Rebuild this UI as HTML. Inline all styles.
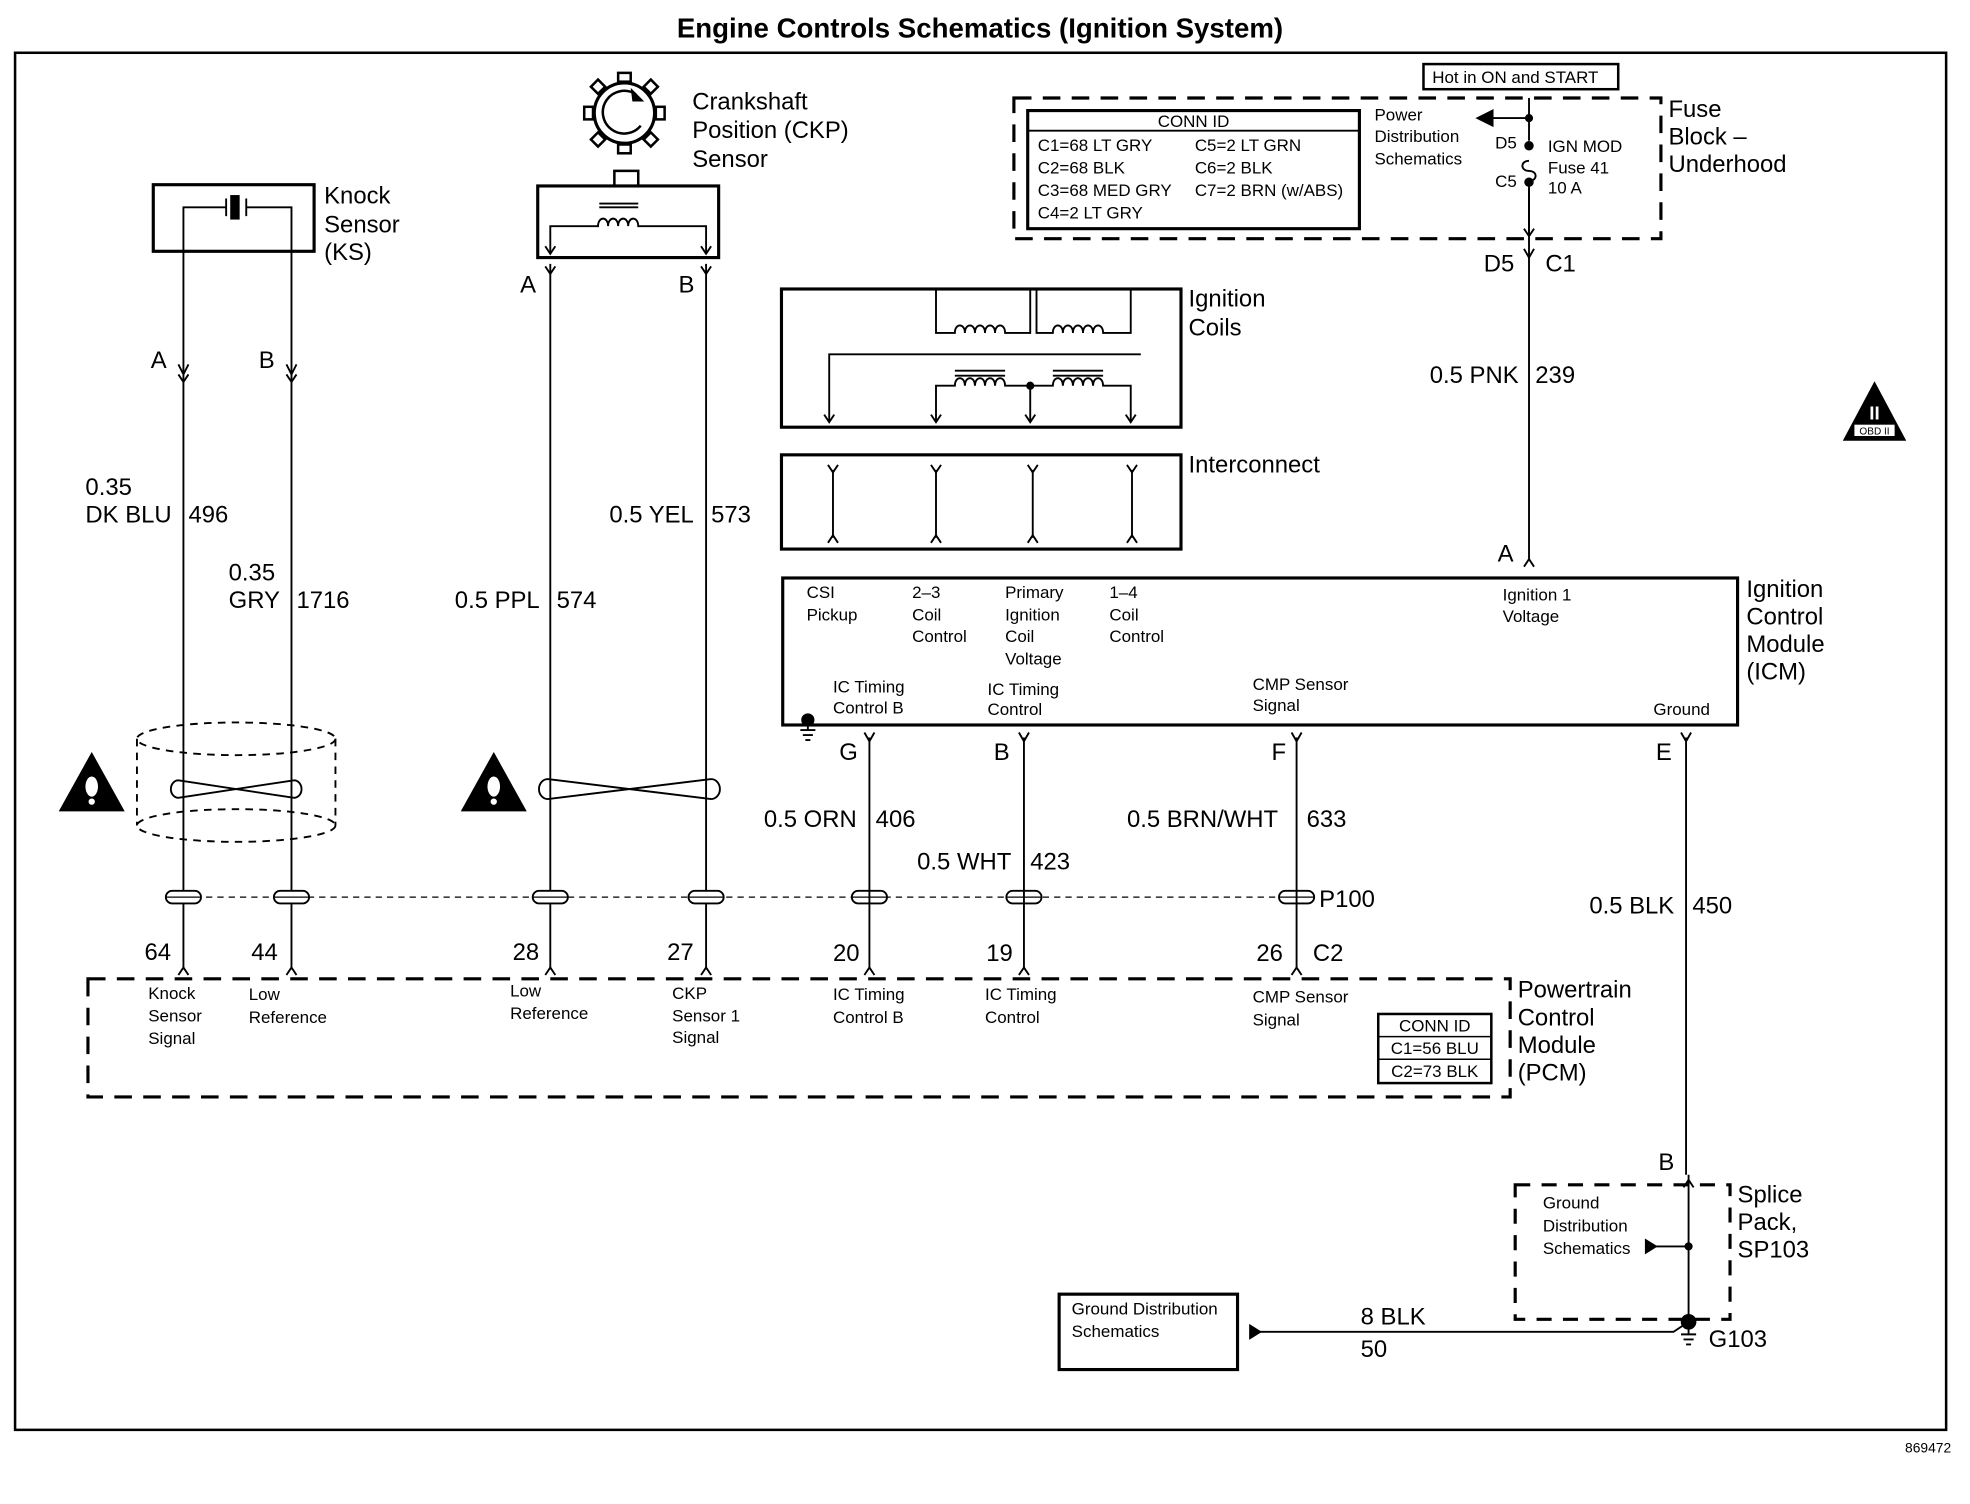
<!DOCTYPE html>
<html><head><meta charset="utf-8"><style>
html,body{margin:0;padding:0;background:#fff}
svg{display:block}
text{font-family:"Liberation Sans",sans-serif;fill:#000}
.L{font-size:19px}
.S{font-size:13.5px}
</style></head><body>
<svg width="1970" height="1504" viewBox="0 0 1568 1197" preserveAspectRatio="none" xmlns="http://www.w3.org/2000/svg">
<g fill="none" stroke="#000" stroke-width="1.5">
<rect x="12" y="42" width="1537" height="1096" stroke-width="2"/>
<rect x="122" y="147" width="128" height="53" stroke-width="2.5"/>
<path d="M146 200V165H180M180 158V172M196 158V172M196 165H232V200"/>
<rect x="184" y="156" width="6" height="18" fill="#000"/>
<path d="M146 200V770M232 200V770"/>
<path d="M142 290L146 298L150 290M142 298L146 304L150 298M228 290L232 298L236 290M228 298L232 304L236 298"/>
<g stroke-dasharray="6,5">
<ellipse cx="188" cy="588" rx="79" ry="13"/>
<ellipse cx="188" cy="657" rx="79" ry="13"/>
<path d="M109 588V657M267 588V657"/>
</g>
<path d="M142 621L234 635M142 635L234 621M142 621A6 7 0 0 0 142 635M234 621A6 7 0 0 1 234 635"/>
<circle cx="497" cy="90" r="24" stroke-width="2.5"/>
<path d="M506 75A17 17 0 1 0 510 100" stroke-width="2"/>
<path d="M503 72L511 80L504 80Z" fill="#000"/>
<g stroke-width="2">
<rect x="492" y="58" width="10" height="7"/><rect x="492" y="115" width="10" height="7"/>
<rect x="465" y="85" width="7" height="10"/><rect x="522" y="85" width="7" height="10"/>
<rect x="472" y="65" width="8" height="8" transform="rotate(45 476 69)"/><rect x="514" y="65" width="8" height="8" transform="rotate(45 518 69)"/>
<rect x="472" y="107" width="8" height="8" transform="rotate(45 476 111)"/><rect x="514" y="107" width="8" height="8" transform="rotate(45 518 111)"/>
</g>
<rect x="489" y="136" width="19" height="12" stroke-width="2"/>
<rect x="428" y="148" width="144" height="57" stroke-width="2.5"/>
<path d="M477 162H508M477 165H508" />
<path d="M438 202V180H476C476 172 484 172 484 180C484 172 492 172 492 180C492 172 500 172 500 180C500 172 508 172 508 180H562V202"/>
<path d="M434 196L438 202L442 196M558 196L562 202L566 196"/>
<path d="M438 210V770M562 210V770M434 212L438 218L442 212M558 212L562 218L566 212"/>
<path d="M436 620L566 636M436 636L566 620M436 620A7 8 0 0 0 436 636M566 620A7 8 0 0 1 566 636"/>
<path d="M146 714H1032" stroke-dasharray="5,4" stroke-width="1"/>
<g fill="#fff" stroke-width="1.5">
<rect x="132" y="709" width="28" height="10" rx="5"/><rect x="218" y="709" width="28" height="10" rx="5"/>
<rect x="424" y="709" width="28" height="10" rx="5"/><rect x="548" y="709" width="28" height="10" rx="5"/>
<rect x="678" y="709" width="28" height="10" rx="5"/><rect x="801" y="709" width="28" height="10" rx="5"/>
<rect x="1018" y="709" width="28" height="10" rx="5"/>
</g>
<path d="M132 714H160M218 714H246M424 714H452M548 714H576M678 714H706M801 714H829M1018 714H1046" stroke-width="1"/>
<path d="M142 776L146 770L150 776M228 776L232 770L236 776M434 776L438 770L442 776M558 776L562 770L566 776M688 776L692 770L696 776M811 776L815 770L819 776M1028 776L1032 770L1036 776"/>
<path d="M692 587V770M815 587V770M1032 587V770M1342 587V935"/>
<path d="M688 583L692 590L696 583M811 583L815 590L819 583M1028 583L1032 590L1036 583M1338 583L1342 590L1346 583"/>
<rect x="70" y="779" width="1132" height="94" stroke-dasharray="14,9" stroke-width="2.5"/>
<rect x="1097" y="807" width="90" height="55" stroke-width="2"/>
<path d="M1097 825H1187M1097 843H1187" stroke-width="1.2"/>
<rect x="622" y="230" width="318" height="110" stroke-width="2.5"/>
<path d="M745 230V265H760C760 257 768 257 768 265C768 257 776 257 776 265C776 257 784 257 784 265C784 257 792 257 792 265C792 257 800 257 800 265H820V230M825 230V265H838C838 257 846 257 846 265C846 257 854 257 854 265C854 257 862 257 862 265C862 257 870 257 870 265C870 257 878 257 878 265H900V230"/>
<path d="M660 336V282H908"/>
<path d="M760 295H800M760 299H800M838 295H878M838 299H878"/>
<path d="M745 336V307H760C760 299 768 299 768 307C768 299 776 299 776 307C776 299 784 299 784 307C784 299 792 299 792 307C792 299 800 299 800 307H838C838 299 846 299 846 307C846 299 854 299 854 307C854 299 862 299 862 307C862 299 870 299 870 307C870 299 878 299 878 307H900V336M820 307V336"/>
<circle cx="820" cy="307" r="2.5" fill="#000"/>
<path d="M656 330L660 336L664 330M741 330L745 336L749 330M816 330L820 336L824 330M896 330L900 336L904 330"/>
<rect x="622" y="362" width="318" height="75" stroke-width="2.5"/>
<path d="M663 374V428M745 374V428M822 374V428M901 374V428"/>
<path d="M659 370L663 376L667 370M741 370L745 376L749 370M818 370L822 376L826 370M897 370L901 376L905 370M659 432L663 426L667 432M741 432L745 426L749 432M818 432L822 426L826 432M897 432L901 426L905 432"/>
<rect x="623" y="460" width="760" height="117" stroke-width="2.5"/>
<path d="M1217 150V445M1213 451L1217 445L1221 451"/>
<path d="M1213 198L1217 205L1221 198"/>
<rect x="807" y="78" width="515" height="112" stroke-dasharray="14,9" stroke-width="2.5"/>
<rect x="1133" y="51" width="155" height="20" stroke-width="2"/>
<rect x="818" y="88" width="264" height="94" stroke-width="2.5"/>
<path d="M818 104H1082" stroke-width="1.5"/>
<path d="M1217 78V112M1217 94H1185M1217 128C1210 128 1210 136 1217 136C1224 136 1224 144 1217 144V150"/>
<path d="M1188 88L1176 94L1188 100Z" fill="#000"/>
<circle cx="1217" cy="94" r="2.5" fill="#000"/><circle cx="1217" cy="116" r="3" fill="#000"/><circle cx="1217" cy="145" r="3" fill="#000"/>
<path d="M1217 150V188M1213 182L1217 188L1221 182"/>
<path d="M1206 943H1377V1050H1206Z" stroke-dasharray="12,9" stroke-width="2.5"/>
<path d="M1344 935V1052M1340 945L1344 939L1348 945"/>
<path d="M1310 992H1344"/>
<path d="M1310 987L1318 992L1310 997Z" fill="#000"/>
<circle cx="1344" cy="992" r="2.5" fill="#000"/>
<circle cx="1344" cy="1052" r="5.5" fill="#000"/>
<path d="M1338 1062H1350M1340 1066H1348M1342 1070H1346M1344 1057V1062"/>
<path d="M1344 1052L1332 1060H995"/>
<path d="M995 1055L1003 1060L995 1065Z" fill="#000"/>
<rect x="843" y="1030" width="142" height="60" stroke-width="2.5"/>
<circle cx="643" cy="573" r="4.5" fill="#000"/>
<path d="M643 577V581M637 581H649M639 585H647M641 589H645"/>
<path d="M73 600L98 645H48Z" fill="#000"/>
<path d="M393 600L418 645H368Z" fill="#000"/>
<path d="M1492 305L1516 350H1468Z" fill="#000"/>
</g>
<g fill="#fff">
<ellipse cx="73" cy="626" rx="5" ry="8"/><circle cx="73" cy="638" r="2.5"/>
<ellipse cx="393" cy="626" rx="5" ry="8"/><circle cx="393" cy="638" r="2.5"/>
<rect x="1476" y="338" width="32" height="9"/>
<text x="1492" y="334" text-anchor="middle" style="font-size:15px;fill:#fff;font-weight:bold">II</text>
<text x="1492" y="346" text-anchor="middle" style="font-size:8px;fill:#000">OBD II</text>
</g>
<text x="780" y="30" text-anchor="middle" style="font-size:22px;font-weight:bold">Engine Controls Schematics (Ignition System)</text>
<text x="1553" y="1156" text-anchor="end" style="font-size:11px">869472</text>
<g class="L">
<text x="258" y="162">Knock</text><text x="258" y="185">Sensor</text><text x="258" y="207">(KS)</text>
<text x="551" y="87">Crankshaft</text><text x="551" y="110">Position (CKP)</text><text x="551" y="133">Sensor</text>
<text x="120" y="293">A</text><text x="206" y="293">B</text>
<text x="414" y="233">A</text><text x="540" y="233">B</text>
<text x="68" y="394">0.35</text><text x="68" y="416">DK BLU</text><text x="150" y="416">496</text>
<text x="182" y="462">0.35</text><text x="182" y="484">GRY</text><text x="236" y="484">1716</text>
<text x="362" y="484">0.5 PPL</text><text x="443" y="484">574</text>
<text x="485" y="416">0.5 YEL</text><text x="566" y="416">573</text>
<text x="946" y="244">Ignition</text><text x="946" y="267">Coils</text>
<text x="946" y="376">Interconnect</text>
<text x="1390" y="475">Ignition</text><text x="1390" y="497">Control</text><text x="1390" y="519">Module</text><text x="1390" y="541">(ICM)</text>
<text x="1328" y="93">Fuse</text><text x="1328" y="115">Block –</text><text x="1328" y="137">Underhood</text>
<text x="1181" y="216">D5</text><text x="1230" y="216">C1</text>
<text x="1138" y="305">0.5 PNK</text><text x="1222" y="305">239</text>
<text x="1192" y="447">A</text>
<text x="668" y="605">G</text><text x="791" y="605">B</text><text x="1012" y="605">F</text><text x="1318" y="605">E</text>
<text x="608" y="658">0.5 ORN</text><text x="697" y="658">406</text>
<text x="730" y="692">0.5 WHT</text><text x="820" y="692">423</text>
<text x="897" y="658">0.5 BRN/WHT</text><text x="1040" y="658">633</text>
<text x="1050" y="722">P100</text>
<text x="1265" y="727">0.5 BLK</text><text x="1347" y="727">450</text>
<text x="115" y="764">64</text><text x="200" y="764">44</text><text x="408" y="764">28</text><text x="531" y="764">27</text>
<text x="663" y="765">20</text><text x="785" y="765">19</text><text x="1000" y="765">26</text><text x="1045" y="765">C2</text>
<text x="1208" y="794">Powertrain</text><text x="1208" y="816">Control</text><text x="1208" y="838">Module</text><text x="1208" y="860">(PCM)</text>
<text x="1320" y="931">B</text>
<text x="1383" y="957">Splice</text><text x="1383" y="979">Pack,</text><text x="1383" y="1001">SP103</text>
<text x="1360" y="1072">G103</text>
<text x="1083" y="1054">8 BLK</text><text x="1083" y="1080">50</text>
</g>
<g class="S">
<text x="1140" y="66">Hot in ON and START</text>
<text x="950" y="101" text-anchor="middle">CONN ID</text>
<text x="826" y="120">C1=68 LT GRY</text><text x="951" y="120">C5=2 LT GRN</text>
<text x="826" y="138">C2=68 BLK</text><text x="951" y="138">C6=2 BLK</text>
<text x="826" y="156">C3=68 MED GRY</text><text x="951" y="156">C7=2 BRN (w/ABS)</text>
<text x="826" y="174">C4=2 LT GRY</text>
<text x="1094" y="96">Power</text><text x="1094" y="113">Distribution</text><text x="1094" y="131">Schematics</text>
<text x="1190" y="118">D5</text><text x="1190" y="149">C5</text>
<text x="1232" y="121">IGN MOD</text><text x="1232" y="138">Fuse 41</text><text x="1232" y="154">10 A</text>
<text x="642" y="476">CSI</text><text x="642" y="494">Pickup</text>
<text x="726" y="476">2–3</text><text x="726" y="494">Coil</text><text x="726" y="511">Control</text>
<text x="800" y="476">Primary</text><text x="800" y="494">Ignition</text><text x="800" y="511">Coil</text><text x="800" y="529">Voltage</text>
<text x="883" y="476">1–4</text><text x="883" y="494">Coil</text><text x="883" y="511">Control</text>
<text x="1196" y="478">Ignition 1</text><text x="1196" y="495">Voltage</text>
<text x="663" y="551">IC Timing</text><text x="663" y="568">Control B</text>
<text x="786" y="553">IC Timing</text><text x="786" y="569">Control</text>
<text x="997" y="549">CMP Sensor</text><text x="997" y="566">Signal</text>
<text x="1316" y="569">Ground</text>
<text x="118" y="795">Knock</text><text x="118" y="813">Sensor</text><text x="118" y="831">Signal</text>
<text x="198" y="796">Low</text><text x="198" y="814">Reference</text>
<text x="406" y="793">Low</text><text x="406" y="811">Reference</text>
<text x="535" y="795">CKP</text><text x="535" y="813">Sensor 1</text><text x="535" y="830">Signal</text>
<text x="663" y="796">IC Timing</text><text x="663" y="814">Control B</text>
<text x="784" y="796">IC Timing</text><text x="784" y="814">Control</text>
<text x="997" y="798">CMP Sensor</text><text x="997" y="816">Signal</text>
<text x="1142" y="821" text-anchor="middle">CONN ID</text>
<text x="1142" y="839" text-anchor="middle">C1=56 BLU</text>
<text x="1142" y="857" text-anchor="middle">C2=73 BLK</text>
<text x="1228" y="962">Ground</text><text x="1228" y="980">Distribution</text><text x="1228" y="998">Schematics</text>
<text x="853" y="1046">Ground Distribution</text><text x="853" y="1064">Schematics</text>
</g>
</svg>
</body></html>
